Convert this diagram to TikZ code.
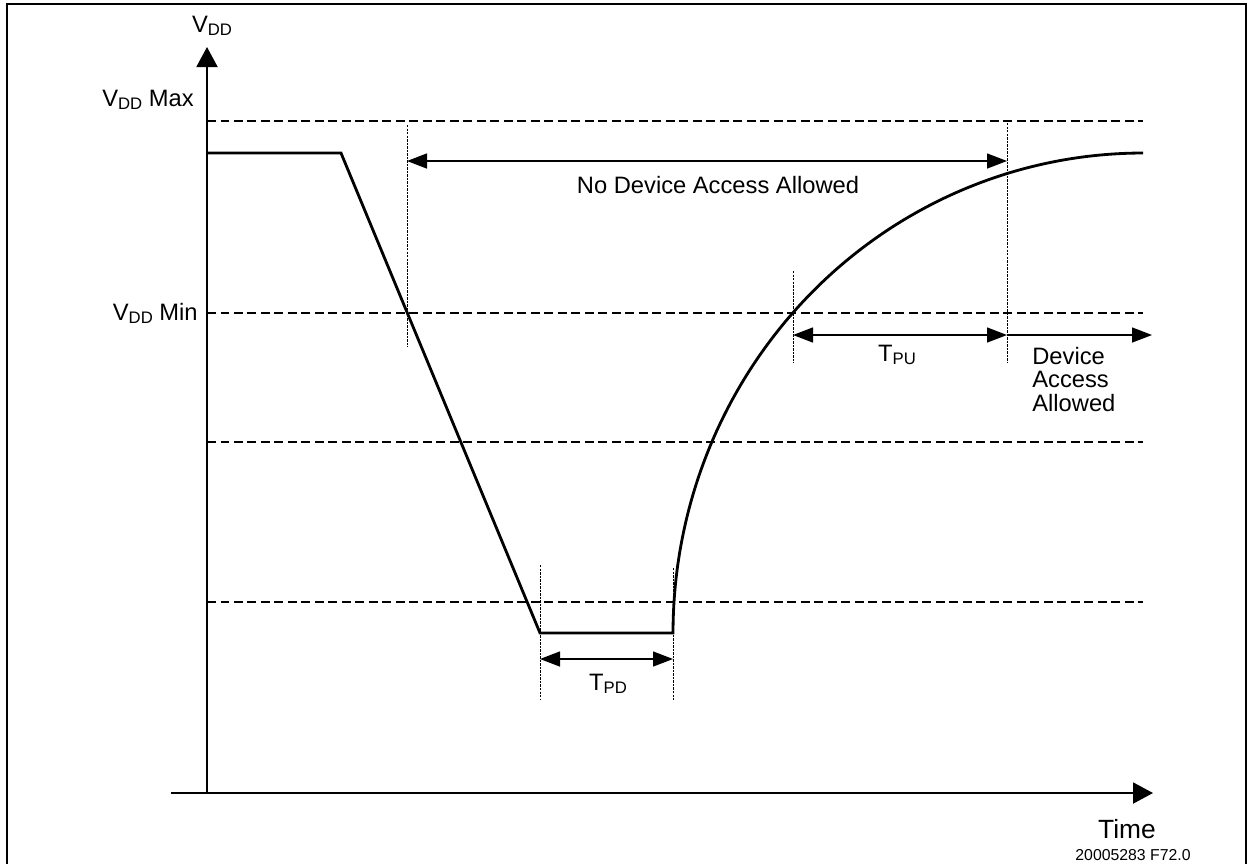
\documentclass[tikz,border=0pt]{standalone}
\usepackage{fontspec}
\setmainfont{Liberation Sans}
\usetikzlibrary{arrows.meta}
\newcommand{\lowsub}[1]{\raisebox{-0.25ex}{\fontsize{9.5}{10}\selectfont #1}}
\begin{document}
\begin{tikzpicture}[x=0.02cm, y=-0.02cm,
    every node/.style={inner sep=0pt, font=\fontsize{13.5}{13.3}\selectfont},
    axe/.style={line width=1.1pt, -{Triangle[length=0.4cm, width=0.42cm]}},
    niveau/.style={line width=0.8pt, dash pattern=on 0.18cm off 0.09cm},
    repere/.style={line width=0.5pt, dash pattern=on 1.4pt off 0.6pt},
    signal/.style={line width=1.6pt, line join=miter},
    cote/.style={line width=0.8pt, {Triangle[length=0.4cm, width=0.3cm]}-{Triangle[length=0.4cm, width=0.3cm]}},
    cotedroite/.style={line width=0.8pt, -{Triangle[length=0.4cm, width=0.3cm]}}]
    \useasboundingbox (0,0) rectangle (1250,863);

    % cadre
    \draw[line width=1.1pt] (7,870) -- (7,4) -- (1246,4) -- (1246,870);

    % axes
    \coordinate (origine) at (207,793);
    \coordinate (haut) at (207,47);
    \coordinate (gauche) at (171,793);
    \coordinate (droite) at (1153,793);
    \draw[axe] (origine) -- (haut);
    \draw[axe] (gauche) -- (droite);
    \node[anchor=base] (vdd) at (212,32) {V\lowsub{DD}};
    \node[anchor=base] (temps) at (1127,838) {\fontsize{15}{16}\selectfont Time};
    \node[anchor=base] (ref) at (1133,860) {\fontsize{9}{10}\selectfont 20005283 F72.0};

    % niveaux de tension (pointillés horizontaux)
    \foreach \y/\nom in {121/max, 313/min, 442/n3, 602/n4}
        \draw[niveau] (207,\y) coordinate (\nom-g) -- (1143,\y) coordinate (\nom-d);
    \node[anchor=base east] (vddmax) at (194,106) {V\lowsub{DD} Max};
    \node[anchor=base east] (vddmin) at (198,320) {V\lowsub{DD} Min};

    % tension : palier, chute, palier bas, remontée en quart d'ellipse
    \coordinate (p0) at (207,153);
    \coordinate (p1) at (341,153);
    \coordinate (p2) at (540,633);
    \coordinate (p3) at (673,633);
    \draw[signal] (p0) -- (p1) -- (p2) -- (p3)
        -- plot[domain=180:90, samples=80, smooth] ({1143+470*cos(\x)}, {633-480*sin(\x)});

    % repères verticaux
    \draw[repere] (407,125) coordinate (r1h) -- (407,347) coordinate (r1b);
    \draw[repere] (1007,123) coordinate (r2h) -- (1007,363) coordinate (r2b);
    \draw[repere] (793,271) coordinate (r3h) -- (793,363) coordinate (r3b);
    \draw[repere] (540,565) coordinate (r4h) -- (540,700) coordinate (r4b);
    \draw[repere] (673,568) coordinate (r5h) -- (673,700) coordinate (r5b);

    % cotes
    \coordinate (na1) at (407,161);
    \coordinate (na2) at (1007,161);
    \draw[cote] (na1) -- (na2);
    \node[anchor=base] (noacces) at (718,193) {No Device Access Allowed};

    \coordinate (pu1) at (793,335);
    \coordinate (pu2) at (1007,335);
    \coordinate (pu3) at (1152,335);
    \draw[cote] (pu1) -- (pu2);
    \draw[cotedroite] (pu2) -- (pu3);
    \node[anchor=base] (tpu) at (897,361) {T\lowsub{PU}};
    \node[anchor=north west, align=left] (acces) at (1032,347) {Device\\Access\\Allowed};

    \coordinate (pd1) at (540,659);
    \coordinate (pd2) at (673,659);
    \draw[cote] (pd1) -- (pd2);
    \node[anchor=base] (tpd) at (608,690) {T\lowsub{PD}};
\end{tikzpicture}
\end{document}
